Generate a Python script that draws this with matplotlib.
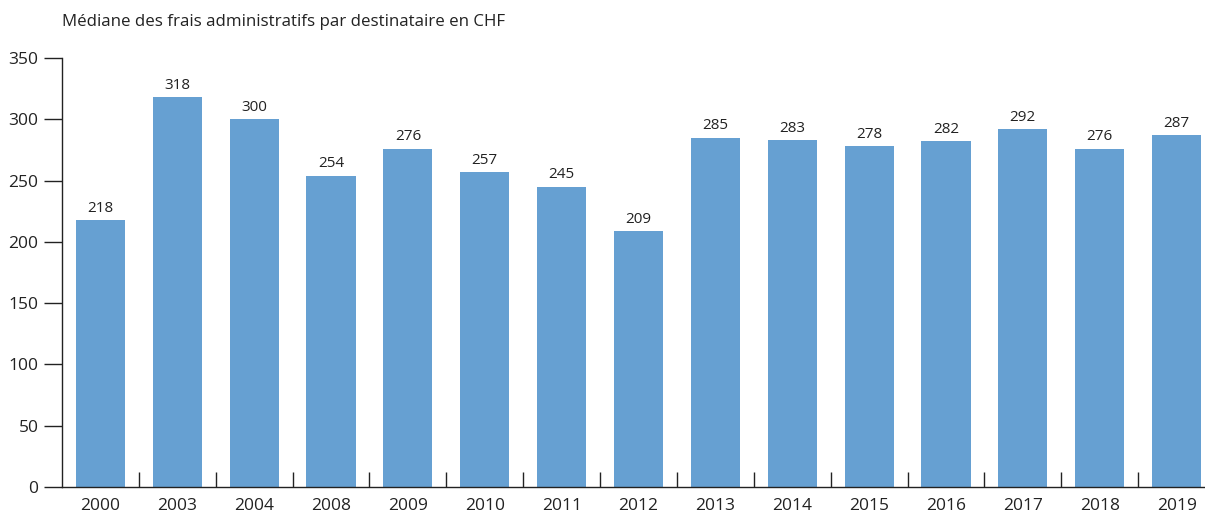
import matplotlib.pyplot as plt
import numpy as np

years = ['2000', '2003', '2004', '2008', '2009', '2010', '2011', '2012',
         '2013', '2014', '2015', '2016', '2017', '2018', '2019']
medians = [218, 318, 300, 254, 276, 257, 245, 209, 285, 283, 278, 282, 292, 276, 287]
title = 'Médiane des frais administratifs par destinataire en CHF'

plt.rcParams['font.family'] = ['Open Sans', 'DejaVu Sans']

fig = plt.figure(figsize=(12.05, 5.16), dpi=100)
# axes run slightly past the right edge, like the source image
ax = fig.add_axes([62 / 1205, 29 / 516, 1153 / 1205, 429 / 516])

x = np.arange(len(years))
bars = ax.bar(x, medians, width=0.64, color='#66a0d2', zorder=2)
for xi, v in zip(x, medians):
    ax.text(xi, v + 3.5, str(v), ha='center', va='bottom', fontsize=11, color='#222222')

ax.set_xlim(-0.5, len(years) - 0.5)
ax.set_ylim(0, 350)
ax.set_yticks(range(0, 351, 50))
ax.set_xticks(x)
ax.set_xticklabels(years)
ax.set_xticks(x[:-1] + 0.5, minor=True)

ax.tick_params(axis='y', direction='out', length=13, width=1, labelsize=12.5, pad=4, colors='#222222')
ax.tick_params(axis='x', which='major', length=0, labelsize=12.5, pad=8, colors='#222222')
ax.tick_params(axis='x', which='minor', direction='in', length=11, width=1, color='#222222')

for side in ['top', 'right']:
    ax.spines[side].set_visible(False)
for side in ['left', 'bottom']:
    ax.spines[side].set_color('#222222')
    ax.spines[side].set_linewidth(1)

fig.text(62 / 1205, 1 - 22 / 516, title, ha='left', va='center', fontsize=12.2, color='#222222')

fig.savefig('out.png', dpi=100)
